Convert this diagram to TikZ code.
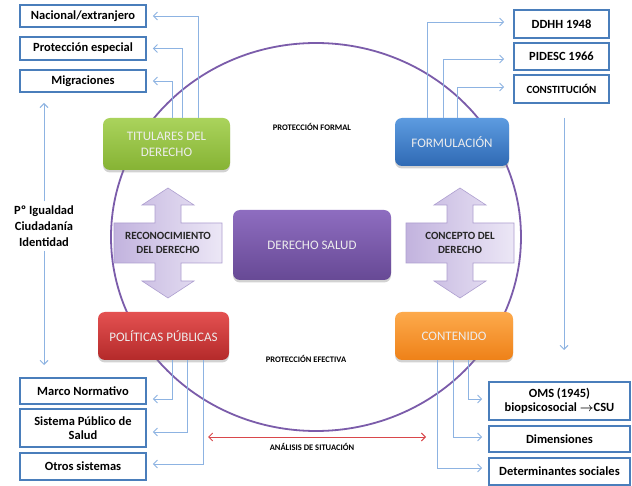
\documentclass[tikz,border=0pt]{standalone}
\usepackage{fontspec}
\setmainfont{Carlito}
\usetikzlibrary{arrows.meta,shadows}
\definecolor{bordc}{HTML}{4A7EBB}
\definecolor{connc}{HTML}{8DB3E2}
\definecolor{circc}{HTML}{7B5CAA}
\definecolor{redc}{HTML}{D9474B}
\definecolor{dblb}{HTML}{AE9FD0}
\definecolor{dblL}{HTML}{C2B3DE}
\definecolor{dblR}{HTML}{ECE7F6}
\definecolor{gT}{HTML}{AAD35C}
\definecolor{gB}{HTML}{86B334}
\definecolor{bT}{HTML}{5D9BE0}
\definecolor{bB}{HTML}{2F6AB4}
\definecolor{rT}{HTML}{E45151}
\definecolor{rB}{HTML}{B42A2A}
\definecolor{oT}{HTML}{FDAA4C}
\definecolor{oB}{HTML}{EE8118}
\definecolor{pT}{HTML}{8E6DC0}
\definecolor{pB}{HTML}{674995}
\begin{document}
\begin{tikzpicture}[x=1pt,y=-1pt,
  barb/.tip={Straight Barb[length=4pt,width=8pt]},
  conn/.style={draw=connc,line width=0.9pt,-barb},
  lbox/.style={draw=bordc,line width=1.6pt,fill=white,align=center,inner sep=0pt,
    font=\bfseries\fontsize{12.5}{14.5}\selectfont,text=black},
  cbox/.style={rounded corners=7pt,align=center,inner sep=0pt,
    font=\fontsize{13}{16}\selectfont,text=white!93!black,
    drop shadow={opacity=0.35,shadow xshift=0pt,shadow yshift=-2.5pt}},
  small/.style={font=\bfseries\fontsize{8.5}{10}\selectfont,inner sep=0pt,text=black},
  dbl/.style={draw=dblb,line width=0.6pt,left color=dblL,right color=dblR},
  dtext/.style={font=\bfseries\fontsize{11}{14}\selectfont,align=center,text=black!85},
  dblarrow/.pic={\path[dbl] (0,-55) -- (26,-38) -- (13,-38) -- (13,-20) -- (54,-20)
    -- (54,20) -- (13,20) -- (13,38) -- (26,38) -- (0,55) -- (-26,38) -- (-13,38)
    -- (-13,20) -- (-54,20) -- (-54,-20) -- (-13,-20) -- (-13,-38) -- (-26,-38) -- cycle;}
]
\useasboundingbox (0,0) rectangle (632,486);
\fill[white] (0,0) rectangle (632,486);

% big circle
\draw[circc,line width=1.8pt] (316,237) ellipse [x radius=205pt,y radius=194pt];

% left column boxes
\node[lbox,minimum width=126pt,minimum height=22pt] (nac) at (83,16) {Nacional/extranjero};
\node[lbox,minimum width=126pt,minimum height=23pt] (pesp) at (83,48.5) {Protección especial};
\node[lbox,minimum width=126pt,minimum height=22pt] (migr) at (83,81) {Migraciones};
\node[lbox,minimum width=126pt,minimum height=26pt] (marco) at (83,391) {Marco Normativo};
\node[lbox,minimum width=126pt,minimum height=38pt] (sist) at (83,428) {Sistema Público de\\Salud};
\node[lbox,minimum width=126pt,minimum height=27pt] (otros) at (83,466.5) {Otros sistemas};

% right column boxes
\node[lbox,minimum width=95pt,minimum height=28pt] (ddhh) at (561.5,24) {DDHH 1948};
\node[lbox,minimum width=95pt,minimum height=27pt] (pidesc) at (561.5,56.5) {PIDESC 1966};
\node[lbox,minimum width=95pt,minimum height=28pt,font=\bfseries\fontsize{11}{13}\selectfont] (const) at (561.5,89) {CONSTITUCIÓN};
\node[lbox,minimum width=141pt,minimum height=38pt] (oms) at (559.5,401) {OMS (1945)\\biopsicosocial {\boldmath\(\rightarrow\)}CSU};
\node[lbox,minimum width=141pt,minimum height=26pt] (dim) at (559.5,439) {Dimensiones};
\node[lbox,minimum width=141pt,minimum height=27pt] (det) at (559.5,471.5) {Determinantes sociales};

% coloured boxes
\node[cbox,top color=gT,bottom color=gB,minimum width=127pt,minimum height=52pt] (tit) at (166.5,144) {TITULARES DEL\\DERECHO};
\node[cbox,top color=bT,bottom color=bB,minimum width=114pt,minimum height=48pt] (form) at (452,142) {FORMULACIÓN};
\node[cbox,top color=rT,bottom color=rB,minimum width=131pt,minimum height=48pt] (pol) at (163.5,336) {POLÍTICAS PÚBLICAS};
\node[cbox,top color=oT,bottom color=oB,minimum width=118pt,minimum height=48pt] (cont) at (454,336) {CONTENIDO};
\node[cbox,top color=pT,bottom color=pB,minimum width=158pt,minimum height=70pt] (der) at (312,245) {DERECHO SALUD};

% double arrows
\pic at (168,243) {dblarrow};
\node[dtext] (rec) at (168,243) {RECONOCIMIENTO\\DEL DERECHO};
\pic at (460,243) {dblarrow};
\node[dtext] (con) at (460,243) {CONCEPTO DEL\\DERECHO};

% connectors titulares
\draw[conn] ([xshift=31.5pt]tit.north) |- ([xshift=6pt]nac.east);
\draw[conn] ([xshift=15.5pt]tit.north) |- ([xshift=6pt]pesp.east);
\draw[conn] ([xshift=5.5pt]tit.north) |- ([xshift=6pt]migr.east);
% connectors formulacion
\draw[conn] ([xshift=-25pt]form.north) |- ([xshift=-9pt,yshift=2pt]ddhh.west);
\draw[conn] ([xshift=-9pt]form.north) |- ([xshift=-9pt,yshift=-2.5pt]pidesc.west);
\draw[conn] ([xshift=5pt]form.north) |- ([xshift=-9pt,yshift=2pt]const.west);
% connectors politicas
\draw[conn] ([xshift=8.5pt]pol.south) |- ([xshift=6pt,yshift=-8pt]marco.east);
\draw[conn] ([xshift=23.5pt]pol.south) |- ([xshift=6pt,yshift=-4pt]sist.east);
\draw[conn] ([xshift=39.5pt]pol.south) |- ([xshift=6pt,yshift=2.5pt]otros.east);
% connectors contenido
\draw[conn] ([xshift=14pt]cont.south) |- ([xshift=-6pt,yshift=2pt]oms.west);
\draw[conn] ([xshift=-1pt]cont.south) |- ([xshift=-6pt,yshift=2pt]dim.west);
\draw[conn] ([xshift=-17pt]cont.south) |- ([xshift=-6pt,yshift=3.5pt]det.west);

% left vertical with text
\node[font=\bfseries\fontsize{12.5}{16}\selectfont,align=center,inner sep=4pt] (pig) at (44,226) {Pº Igualdad\\Ciudadanía\\Identidad};
\coordinate (lt) at (44,103);
\coordinate (lb) at (44,365);
\draw[conn] (pig.north) -- (lt);
\draw[conn] (pig.south) -- (lb);

% right vertical
\coordinate (rt) at (564,118);
\coordinate (rb) at (564,350);
\draw[conn] (rt) -- (rb);

% red arrow
\coordinate (ra) at (208,437);
\coordinate (rz) at (426,437);
\draw[redc,line width=0.9pt,barb-barb] (ra) -- (rz);

% small labels
\node[small] (pf) at (312,127) {PROTECCIÓN FORMAL};
\node[small] (pe) at (306,359) {PROTECCIÓN EFECTIVA};
\node[small] (as) at (312,447) {ANÁLISIS DE SITUACIÓN};
\end{tikzpicture}
\end{document}
